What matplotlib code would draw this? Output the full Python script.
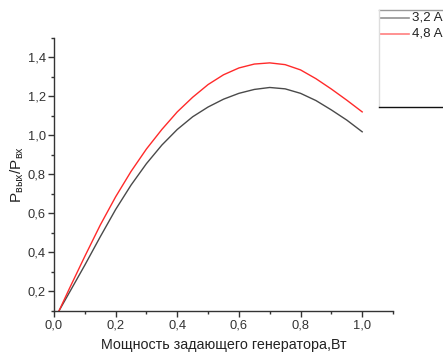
import matplotlib
matplotlib.use('Agg')
import matplotlib.pyplot as plt
from matplotlib.ticker import MultipleLocator, FuncFormatter
from matplotlib.lines import Line2D

plt.rcParams['font.family'] = ['Liberation Sans', 'DejaVu Sans']
plt.rcParams['mathtext.fontset'] = 'custom'
plt.rcParams['mathtext.rm'] = 'Liberation Sans'

# data
power = [0.016, 0.05, 0.10, 0.15, 0.20, 0.25, 0.30, 0.35, 0.40, 0.45, 0.50,
         0.55, 0.60, 0.65, 0.70, 0.75, 0.80, 0.85, 0.90, 0.95, 1.00]
ratio_32 = [0.10, 0.195, 0.335, 0.48, 0.62, 0.745, 0.855, 0.95, 1.03, 1.095, 1.145,
            1.185, 1.215, 1.235, 1.245, 1.238, 1.215, 1.178, 1.13, 1.078, 1.018]
ratio_48 = [0.10, 0.215, 0.38, 0.54, 0.685, 0.815, 0.93, 1.03, 1.12, 1.195, 1.26,
            1.31, 1.345, 1.365, 1.371, 1.362, 1.335, 1.29, 1.237, 1.18, 1.12]
labels = ['3,2 A', '4,8 A']
colors = ['#4a4a4a', '#ff2a2a']

W, H = 443, 354
fig = plt.figure(figsize=(W / 100, H / 100), dpi=100)
ax = fig.add_axes([54 / W, 1 - 311 / H, (393 - 54) / W, (311 - 37.7) / H])

ax.plot(power, ratio_32, color=colors[0], lw=1.0)
ax.plot(power, ratio_48, color=colors[1], lw=1.0)

ax.set_xlim(0, 1.1)
ax.set_ylim(0.1, 1.5)
ax.xaxis.set_major_locator(MultipleLocator(0.2))
ax.xaxis.set_minor_locator(MultipleLocator(0.1))
ax.yaxis.set_major_locator(MultipleLocator(0.2))
ax.yaxis.set_minor_locator(MultipleLocator(0.1))
comma = FuncFormatter(lambda v, p: ('%.1f' % v).replace('.', ','))
ax.xaxis.set_major_formatter(comma)
ax.yaxis.set_major_formatter(comma)

for s in ['top', 'right']:
    ax.spines[s].set_visible(False)
for s in ['left', 'bottom']:
    ax.spines[s].set_color('#333333')
    ax.spines[s].set_linewidth(1.0)
ax.tick_params(which='major', direction='out', length=4, width=1, color='#333333',
               labelsize=9.3, labelcolor='#333333', pad=2)
ax.tick_params(which='minor', direction='out', length=2.5, width=1, color='#333333')

ax.set_xlabel('Мощность задающего генератора,Вт', fontsize=10.3, color='#222222', labelpad=5)
ax.set_ylabel(r'P$_{\mathregular{вых}}$/P$_{\mathregular{вх}}$', fontsize=11,
              color='#222222', labelpad=1)

# legend box, partly cut off at the right edge
x0, x1 = 379 / W, 1.0
y0, y1 = 1 - 107 / H, 1 - 10 / H
fig.add_artist(Line2D([x0, x1], [y1, y1], color='#999999', lw=1, transform=fig.transFigure))
fig.add_artist(Line2D([x0, x0], [y0, y1], color='#dddddd', lw=1, transform=fig.transFigure))
fig.add_artist(Line2D([x0, x1], [y0, y0], color='#111111', lw=1, transform=fig.transFigure))
for i, (lab, c) in enumerate(zip(labels, colors)):
    yy = 1 - (18 + 16 * i) / H
    fig.add_artist(Line2D([381 / W, 409 / W], [yy, yy], color=c, lw=1.2, alpha=0.6,
                          transform=fig.transFigure))
    fig.text(412 / W, yy, lab, fontsize=9.6, color='#222222', va='center', ha='left')

fig.savefig('out.png', dpi=100)
